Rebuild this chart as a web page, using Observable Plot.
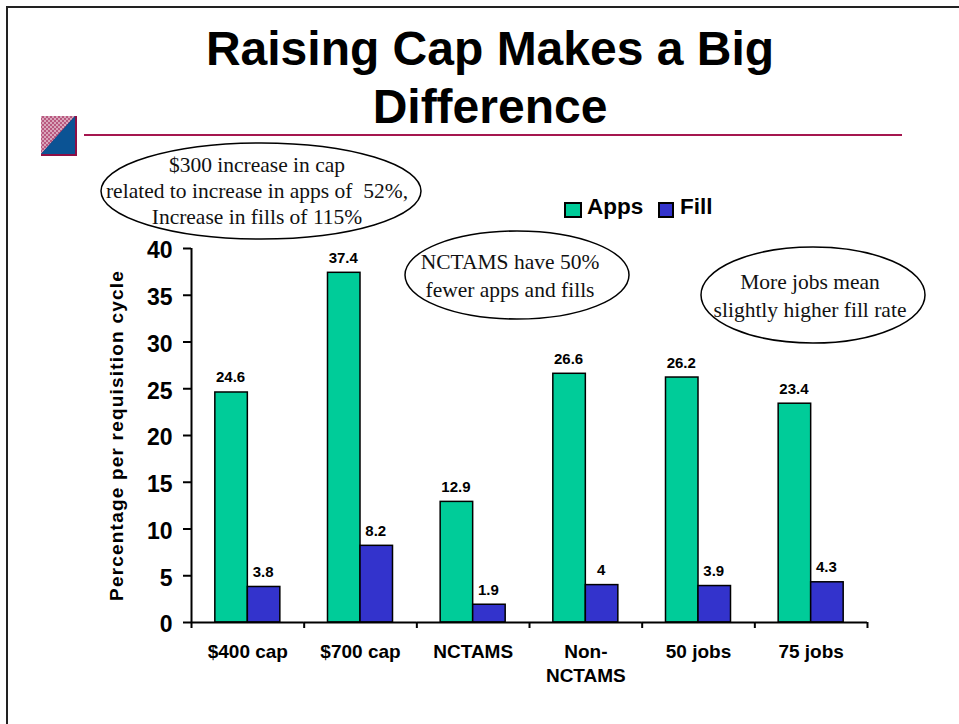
<!DOCTYPE html>
<html><head><meta charset="utf-8">
<script src="https://cdn.jsdelivr.net/npm/d3@7"></script>
<script src="https://cdn.jsdelivr.net/npm/@observablehq/plot@0.6"></script>
<style>
html,body{margin:0;padding:0;background:#fff;}
#page{position:relative;width:959px;height:724px;overflow:hidden;font-family:"Liberation Sans",Arial,sans-serif;}
#page>*{position:absolute;}
#frame{left:6px;top:6px;width:1000px;height:1000px;border:2px solid #222;box-sizing:border-box;}
#title{left:90px;width:800px;top:20px;text-align:center;font-weight:bold;font-size:48px;line-height:58px;color:#000;}
#rule{left:84px;width:818px;top:134px;height:2px;background:#a5164f;}
.note{font-family:"Liberation Serif","Times New Roman",serif;font-size:21.5px;line-height:26px;color:#111;text-align:center;white-space:nowrap;}
.sw{border:2px solid #000;box-sizing:border-box;}
.lg{font-weight:bold;font-size:22.5px;line-height:24px;color:#000;}
.ylab text{letter-spacing:1.2px;}
</style></head>
<body><div id="page">
<div id="frame"></div>
<svg id="deco" style="left:0;top:0" width="959" height="724">
<defs><pattern id="hatch" width="4" height="4" patternUnits="userSpaceOnUse"><rect width="4" height="4" fill="#b9587f"/><rect width="2" height="2" fill="#d9a6bb"/><rect x="2" y="2" width="2" height="2" fill="#d9a6bb"/></pattern></defs>
<rect x="41" y="116" width="36" height="40" fill="#8e0f45"/>
<polygon points="41,116 75,116 41,154" fill="url(#hatch)"/>
<polygon points="75,116 75,154 41,154" fill="#0b5394"/>
<g fill="#fff" stroke="#000" stroke-width="1.5">
<ellipse cx="261" cy="191" rx="160" ry="48"/>
<ellipse cx="517" cy="275" rx="112" ry="44"/>
<ellipse cx="813" cy="295" rx="112" ry="48"/>
</g>
</svg>
<div id="rule"></div>
<div id="title">Raising Cap Makes a Big<br>Difference</div>
<div id="plot" style="left:0;top:0"></div>
<div class="note" style="left:100px;width:314px;top:152px">$300 increase in cap<br>related to increase in apps of&nbsp; 52%,<br>Increase in fills of 115%</div>
<div class="note" style="left:399px;width:222px;top:248px;line-height:28px">NCTAMS have 50%<br>fewer apps and fills</div>
<div class="note" style="left:701px;width:218px;top:268px;line-height:28px">More jobs mean<br>slightly higher fill rate</div>
<div class="sw" style="left:564px;top:202px;width:18px;height:16px;background:#00CC99"></div>
<div class="lg" style="left:587px;top:195px">Apps</div>
<div class="sw" style="left:658px;top:202px;width:16px;height:16px;background:#3333CC"></div>
<div class="lg" style="left:680px;top:195px">Fill</div>
</div>
<script>
const categories = ["$400 cap","$700 cap","NCTAMS","Non-NCTAMS","50 jobs","75 jobs"];
const seriesNames = ["Apps","Fill"];
const apps = [24.6,37.4,12.9,26.6,26.2,23.4];
const fill = [3.8,8.2,1.9,4,3.9,4.3];
const yTicks = [0,5,10,15,20,25,30,35,40];
const yLabel = "Percentage per requisition cycle";
const colors = ["#00CC99","#3333CC"];

const rows = categories.flatMap((c,i)=>[
  {cat:c,series:"Apps",value:apps[i]},
  {cat:c,series:"Fill",value:fill[i]}
]);
const tickShift = 40.07;
const leftTicks = categories.map(c=>({cat:c}));
const chart = Plot.plot({
  width:959,height:724,
  marginLeft:191,marginRight:92,marginTop:248,marginBottom:102,
  style:{background:"transparent",fontFamily:'"Liberation Sans",Arial,sans-serif',color:"#000"},
  y:{domain:[0,40],axis:null},
  x:{domain:seriesNames,paddingInner:0,paddingOuter:0.733,round:false,axis:null},
  fx:{domain:categories,padding:0,round:false,axis:null},
  color:{domain:seriesNames,range:colors},
  marks:[
    Plot.barY(rows,{fx:"cat",x:"series",y:"value",fill:"series",stroke:"#000",strokeWidth:1.5}),
    Plot.ruleY([0],{stroke:"#000",strokeWidth:2}),
    Plot.ruleX(leftTicks,{fx:"cat",x:()=>"Apps",y1:0,y2:0,dx:-tickShift,insetBottom:-6,stroke:"#000",strokeWidth:2}),
    Plot.ruleX(leftTicks.slice(-1),{fx:"cat",x:()=>"Fill",y1:0,y2:0,dx:tickShift,insetBottom:-6,stroke:"#000",strokeWidth:2}),
    Plot.ruleX(leftTicks.slice(0,1),{fx:"cat",x:()=>"Apps",y1:0,y2:40,dx:-tickShift,stroke:"#000",strokeWidth:2}),
    Plot.text(rows,{fx:"cat",x:"series",y:"value",text:d=>String(d.value),lineAnchor:"bottom",dy:-10,dx:-1,fontSize:15,fontWeight:"bold",fill:"#000"}),
    Plot.axisY({ticks:yTicks,tickSize:8,strokeWidth:2,stroke:"#000",tickFormat:()=>"",label:null}),
    Plot.axisY({ticks:yTicks,tickSize:0,tickPadding:19,dy:2.5,fontSize:23,fontWeight:"bold",label:null,fill:"#000"}),
    Plot.text([yLabel],{frameAnchor:"left",textAnchor:"middle",rotate:-90,dx:-75,facet:"super",fontSize:19,fontWeight:"bold",fill:"#000",className:"ylab"}),
    Plot.axisFx({anchor:"bottom",tickSize:0,tickPadding:19,fontSize:19,fontWeight:"bold",label:null,fill:"#000",lineHeight:1.25,
      tickFormat:d=>d.replace("Non-","Non-\n")})
  ]
});
document.getElementById("plot").appendChild(chart);
</script>
</body></html>
